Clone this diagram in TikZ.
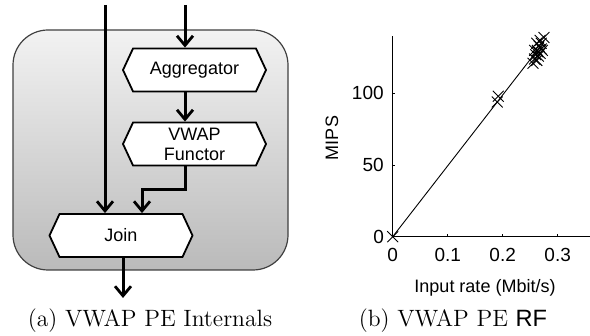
\documentclass[tikz,border=0pt]{standalone}
\usepackage{fontspec}
\setsansfont{Liberation Sans}
\usetikzlibrary{positioning,arrows.meta,shapes.symbols,shapes.misc,calc}

\begin{document}
\begin{tikzpicture}[
  x=0.5pt, y=-0.5pt,
  font=\sffamily\fontsize{9}{10.5}\selectfont,
  peblock/.style={draw=black!75,rounded corners=17.5pt,top color=black!5,bottom color=black!27,line width=0.6pt},
  operator/.style={signal,signal to=east and west,signal pointer angle=130,draw,fill=white,line width=0.9pt,
    minimum width=71.5pt,minimum height=21.5pt,inner sep=0pt,align=center,font=\sffamily\fontsize{9}{10}\selectfont},
  stream/.style={-{Straight Barb[length=4.8pt,width=8pt,line width=1.4pt]},line width=1.5pt},
  sample/.style={cross out,draw,line width=0.45pt,minimum size=5pt,inner sep=0pt},
  ticklab/.style={font=\sffamily\fontsize{9.5}{11}\selectfont},
  caption/.style={font=\rmfamily\fontsize{11.8}{14}\selectfont}
]
\useasboundingbox (0,0) rectangle (590,336);

% (a) PE internals
\draw[peblock] (13,30) rectangle (288,270);
\node[operator] (agg) at (194.5,70) {Aggregator};
\node[operator] (vwap) at (194.5,144) {VWAP\\Functor};
\node[operator] (join) at (121,235.5) {Join};
\coordinate (inleft) at (105,5);
\coordinate (inright) at (185,5);
\coordinate (joinright) at (142,190);
\coordinate (out) at (123,298);

\draw[stream] (inleft) -- (inleft |- join.north);
\draw[stream] (inright) -- (inright |- agg.north);
\draw[stream] (inright |- agg.south) -- (inright |- vwap.north);
\draw[stream] (inright |- vwap.south) |- (joinright) -- (joinright |- join.north);
\draw[stream] (out |- join.south) -- (out);

\node[caption] (capa) at (150,321) {(a) VWAP PE Internals};

% (b) resource function
\begin{scope}[shift={(392.7,236.7)},x=275pt,y=0.7165pt]
  \coordinate (origin) at (0,0);
  \coordinate (xend) at (0.358,0);
  \coordinate (yend) at (0,140);
  \draw[line width=0.5pt] (yend) -- (origin) -- (xend);
  \foreach \xv in {0.1,0.2,0.3} {
    \draw[line width=0.4pt] (\xv,0) -- ++(0,2.2);
    \node[ticklab] (xt\xv) at (\xv,-12.6) {\xv};
  }
  \node[ticklab] (xt0) at (0,-12.6) {0};
  \foreach \yv in {50,100} {
    \draw[line width=0.4pt] (0,\yv) -- ++(0.005,0);
    \node[ticklab,left=1pt] (yt\yv) at (0,\yv) {\yv};
  }
  \node[ticklab,left=0.8pt] (yt0) at (origin) {0};
  \coordinate (fitend) at (0.275,136);
  \draw[line width=0.45pt] (origin) -- (fitend);
  \foreach \px/\py [count=\k] in {0/0,0.190/94,0.192/98,0.255/121,0.258/124,0.260/127,0.262/123,
      0.263/130,0.265/126,0.266/133,0.268/128,0.270/135,0.272/130,0.262/135,0.275/139,0.258/130,
      0.268/137,0.264/129,0.270/131} {
    \node[sample] (mk\k) at (\px,\py) {};
  }
\end{scope}
\node[rotate=90] (ylab) at (332,138) {MIPS};
\node (xlab) at (485,288) {Input rate (Mbit/s)};
\node[caption] (capb) at (453,321) {(b) VWAP PE \textsf{RF}};

\end{tikzpicture}
\end{document}
